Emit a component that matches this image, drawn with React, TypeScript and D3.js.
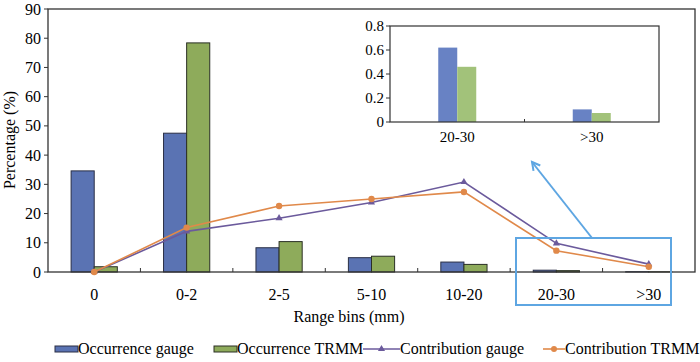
import React from "react";
import * as d3 from "d3";

const categories = ["0", "0-2", "2-5", "5-10", "10-20", "20-30", ">30"];
const occurrenceGauge = [34.6, 47.5, 8.3, 4.9, 3.4, 0.62, 0.1];
const occurrenceTRMM = [1.8, 78.4, 10.4, 5.4, 2.6, 0.46, 0.075];
const contributionGauge = [0, 13.9, 18.4, 23.8, 30.8, 9.8, 2.7];
const contributionTRMM = [0, 15.2, 22.6, 25.0, 27.4, 7.3, 1.8];
const yTicks = [0, 10, 20, 30, 40, 50, 60, 70, 80, 90];
const insetCategories = ["20-30", ">30"];
const insetGauge = [0.62, 0.105];
const insetTRMM = [0.46, 0.075];
const insetTicks = [0, 0.2, 0.4, 0.6, 0.8];

const FONT = '"Liberation Serif", "Times New Roman", Tinos';
const BLUE = "#5a73b3";
const GREEN = "#8eab5b";
const PURPLE = "#6b5a9c";
const ORANGE = "#e0894a";
const HIGHLIGHT = "#5ea6e2";

export default function App() {
  const L = 48, R = 695, T = 9, B = 272;
  const x = d3.scaleBand<string>().domain(categories).range([L, R]);
  const y = d3.scaleLinear().domain([0, 90]).range([B, T]);
  const bw = x.bandwidth() / 4;
  const cx = (c: string) => (x(c) as number) + x.bandwidth() / 2;

  const lineGen = d3
    .line<number>()
    .x((_, i) => cx(categories[i]))
    .y((d) => y(d));

  const iL = 390, iR = 659, iT = 26, iB = 122;
  const ix = d3.scaleBand<string>().domain(insetCategories).range([iL, iR]);
  const iy = d3.scaleLinear().domain([0, 0.8]).range([iB, iT]);
  const ibw = 19;
  const icx = (c: string) => (ix(c) as number) + ix.bandwidth() / 2;

  const tri = d3.symbol().type(d3.symbolTriangle).size(22)();

  const hbX0 = 516, hbX1 = 671, hbY0 = 238, hbY1 = 305;
  const ax0 = 592, ay0 = hbY0, ax1 = 532, ay1 = 162;
  const ang = Math.atan2(ay1 - ay0, ax1 - ax0);
  const ah = 9;
  const a1 = [ax1 - ah * Math.cos(ang - 0.5), ay1 - ah * Math.sin(ang - 0.5)];
  const a2 = [ax1 - ah * Math.cos(ang + 0.5), ay1 - ah * Math.sin(ang + 0.5)];

  const ts = { fontFamily: FONT };

  return (
    <svg width={700} height={362} style={{ position: "absolute", left: 0, top: 0, fontFamily: FONT }}>
      <rect x={0} y={0} width={700} height={362} fill="#fff" />
      {categories.map((c, i) => (
        <g key={c}>
          <rect x={cx(c) - bw} y={y(occurrenceGauge[i])} width={bw} height={B - y(occurrenceGauge[i])} fill={BLUE} stroke="#2a2f45" strokeWidth={1} />
          <rect x={cx(c)} y={y(occurrenceTRMM[i])} width={bw} height={B - y(occurrenceTRMM[i])} fill={GREEN} stroke="#2a2f25" strokeWidth={1} />
        </g>
      ))}
      <rect x={L} y={T} width={R - L} height={B - T} fill="none" stroke="#333" strokeWidth={1.3} />
      {yTicks.map((t) => (
        <g key={t}>
          <line x1={L - 4} x2={L} y1={y(t)} y2={y(t)} stroke="#333" />
          <text style={ts} x={L - 7} y={y(t)} dy="0.35em" textAnchor="end" fontSize={16}>{t}</text>
        </g>
      ))}
      {categories.slice(1).map((c) => (
        <line key={c} x1={x(c)} x2={x(c)} y1={B} y2={B - 4} stroke="#333" />
      ))}
      {categories.map((c) => (
        <text style={ts} key={c} x={cx(c)} y={300} textAnchor="middle" fontSize={16}>{c}</text>
      ))}
      <text style={ts} x={349} y={322} textAnchor="middle" fontSize={16}>Range bins (mm)</text>
      <text style={ts} transform={`translate(15,140) rotate(-90)`} textAnchor="middle" fontSize={16}>Percentage (%)</text>
      <path d={lineGen(contributionGauge) || ""} fill="none" stroke={PURPLE} strokeWidth={1.6} />
      <path d={lineGen(contributionTRMM) || ""} fill="none" stroke={ORANGE} strokeWidth={1.6} />
      {contributionGauge.map((v, i) => (
        <path key={"g" + i} d={tri || ""} transform={`translate(${cx(categories[i])},${y(v)})`} fill={PURPLE} />
      ))}
      {contributionTRMM.map((v, i) => (
        <circle key={"t" + i} cx={cx(categories[i])} cy={y(v)} r={3.2} fill={ORANGE} />
      ))}
      <rect x={hbX0} y={hbY0} width={hbX1 - hbX0} height={hbY1 - hbY0} fill="none" stroke={HIGHLIGHT} strokeWidth={2} />
      <line x1={ax0} y1={ay0} x2={ax1} y2={ay1} stroke={HIGHLIGHT} strokeWidth={2} />
      <polyline points={`${a1[0]},${a1[1]} ${ax1},${ay1} ${a2[0]},${a2[1]}`} fill="none" stroke={HIGHLIGHT} strokeWidth={2} />
      <rect x={iL} y={iT} width={iR - iL} height={iB - iT} fill="#fff" stroke="none" />
      {insetCategories.map((c, i) => (
        <g key={c}>
          <rect x={icx(c) - ibw} y={iy(insetGauge[i])} width={ibw} height={iB - iy(insetGauge[i])} fill="#6882c4" />
          <rect x={icx(c)} y={iy(insetTRMM[i])} width={ibw} height={iB - iy(insetTRMM[i])} fill="#a2c27a" />
          <text style={ts} x={icx(c)} y={142} textAnchor="middle" fontSize={15}>{c}</text>
        </g>
      ))}
      <rect x={iL} y={iT} width={iR - iL} height={iB - iT} fill="none" stroke="#333" strokeWidth={1.2} />
      <line x1={ix(insetCategories[1])} x2={ix(insetCategories[1])} y1={iB} y2={iB - 3} stroke="#333" />
      {insetTicks.map((t) => (
        <g key={t}>
          <line x1={iL - 4} x2={iL} y1={iy(t)} y2={iy(t)} stroke="#333" />
          <text style={ts} x={iL - 6} y={iy(t)} dy="0.35em" textAnchor="end" fontSize={15}>{t}</text>
        </g>
      ))}
      <g fontSize={16}>
        <rect x={55} y={346} width={23} height={6} fill={BLUE} stroke="#2a2f45" />
        <text style={ts} x={78} y={354}>Occurrence gauge</text>
        <rect x={214} y={346} width={23} height={6} fill={GREEN} stroke="#2a2f25" />
        <text style={ts} x={237} y={354}>Occurrence TRMM</text>
        <line x1={363} x2={400} y1={349} y2={349} stroke={PURPLE} strokeWidth={1.6} />
        <path d={tri || ""} transform="translate(381.5,349)" fill={PURPLE} />
        <text style={ts} x={400} y={354}>Contribution gauge</text>
        <line x1={543} x2={565} y1={349} y2={349} stroke={ORANGE} strokeWidth={1.6} />
        <circle cx={554} cy={349} r={3} fill={ORANGE} />
        <text style={ts} x={565} y={354}>Contribution TRMM</text>
      </g>
    </svg>
  );
}
